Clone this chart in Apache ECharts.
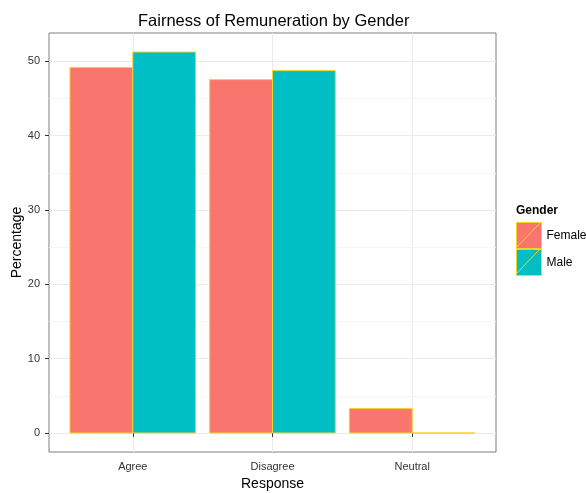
<!DOCTYPE html>
<html><head><meta charset="utf-8">
<script src="https://cdn.jsdelivr.net/npm/echarts@6/dist/echarts.min.js"></script>
<style>html,body{margin:0;padding:0;background:#fff}#c{width:586px;height:493px}</style>
</head><body><div id="c"></div>
<script>
const categories = ['Agree', 'Disagree', 'Neutral'];
const genders = ['Female', 'Male'];
const female = [49.18, 47.54, 3.28];
const male = [51.25, 48.75, 0];
const yTicks = [0, 10, 20, 30, 40, 50];
const yMinor = [5, 15, 25, 35, 45];
const colors = ['#F8766D', '#00BFC4'];
const outline = '#F5D327';

const chart = echarts.init(document.getElementById('c'));
const barHalf = 0.225;
function mkSeries(name, vals, offset, color) {
  return {
    type: 'custom', name: name,
    itemStyle: { color: color, borderColor: outline, borderWidth: 1 },
    data: vals.map((v, i) => [i + 1, v]),
    renderItem: function (params, api) {
      const x = api.value(0) + offset, y = api.value(1);
      const p1 = api.coord([x - barHalf, y]);
      const p2 = api.coord([x + barHalf, 0]);
      return {
        type: 'rect',
        shape: { x: p1[0], y: p1[1], width: p2[0] - p1[0], height: p2[1] - p1[1] },
        style: { fill: color, stroke: outline, lineWidth: 1 }
      };
    },
    z: 3
  };
}
const option = {
  backgroundColor: '#fff',
  animation: false,
  title: {
    text: 'Fairness of Remuneration by Gender', left: 133, top: 8,
    textStyle: { fontFamily: 'Liberation Sans', fontSize: 16.5, fontWeight: 'normal', color: '#000' }
  },
  grid: { left: 49, right: 90, top: 33, bottom: 41, outerBoundsMode: 'none', containLabel: false,
    show: true, borderColor: '#7f7f7f', borderWidth: 1, backgroundColor: 'transparent' },
  xAxis: {
    type: 'value', min: 0.4, max: 3.6,
    name: 'Response', nameLocation: 'middle', nameGap: 25, nameMoveOverlap: false,
    nameTextStyle: { fontFamily: 'Liberation Sans', fontSize: 14, color: '#000' },
    axisLine: { show: false },
    axisTick: { show: true, length: 4, lineStyle: { color: '#333' }, customValues: [1, 2, 3] },
    axisLabel: { customValues: [1, 2, 3], formatter: v => categories[Math.round(v) - 1], margin: 9,
      fontFamily: 'Liberation Sans', fontSize: 11, color: '#333' },
    splitLine: { show: true, lineStyle: { color: '#ebebeb', width: 1 } }
  },
  yAxis: {
    type: 'value', min: -2.56, max: 53.81,
    name: 'Percentage', nameLocation: 'middle', nameGap: 25, nameMoveOverlap: false,
    nameTextStyle: { fontFamily: 'Liberation Sans', fontSize: 14, color: '#000' },
    axisLine: { show: false },
    axisTick: { show: true, length: 4, lineStyle: { color: '#333' }, customValues: yTicks },
    axisLabel: { customValues: yTicks, margin: 9, fontFamily: 'Liberation Sans', fontSize: 11, color: '#333' },
    splitLine: { show: true, lineStyle: { color: '#ebebeb', width: 1 } }
  },
  legend: {
    orient: 'vertical', left: 516, top: 222, padding: 0, itemWidth: 25, itemHeight: 26, itemGap: 0,
    icon: 'rect',
    data: genders.map((g, i) => ({ name: g, itemStyle: { color: colors[i], borderColor: outline, borderWidth: 1 } })),
    textStyle: { fontFamily: 'Liberation Sans', fontSize: 12, color: '#000' }
  },
  graphic: [
    { type: 'text', left: 516, top: 205, style: { text: 'Gender', font: 'bold 12px "Liberation Sans"', fill: '#000' } },
    { type: 'line', shape: { x1: 517, y1: 247, x2: 540, y2: 223 }, style: { stroke: outline, lineWidth: 1 }, z: 100 },
    { type: 'line', shape: { x1: 517, y1: 273, x2: 540, y2: 249 }, style: { stroke: outline, lineWidth: 1 }, z: 100 }
  ],
  series: [
    {
      type: 'line', data: [], silent: true, z: 0,
      markLine: { silent: true, z: 0, symbol: 'none', label: { show: false },
        lineStyle: { color: '#f5f5f5', type: 'solid', width: 1 },
        data: yMinor.map(v => ({ yAxis: v })) }
    },
    mkSeries(genders[0], female, -barHalf, colors[0]),
    mkSeries(genders[1], male, barHalf, colors[1])
  ]
};
chart.setOption(option);
</script></body></html>
